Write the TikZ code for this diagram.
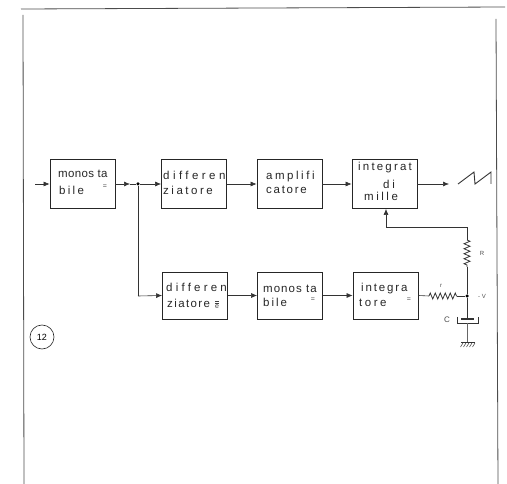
\documentclass[tikz,border=0pt]{standalone}
\usepackage{fontspec}
\setmainfont{Liberation Sans}
\usetikzlibrary{arrows.meta,decorations.pathmorphing}
\newcommand{\spc}[2]{{\addfontfeatures{LetterSpace=#1}#2}}
\tikzset{
  blk/.style={draw=black!85,line width=0.8pt,minimum width=65pt,minimum height=49pt,inner sep=0pt},
  lbl/.style={font=\fontsize{11.5pt}{12pt}\selectfont,anchor=west,inner sep=0pt,text=black!85,text height=7.5pt,text depth=1.5pt},
  small/.style={font=\fontsize{6pt}{7pt}\selectfont,inner sep=0pt,text=black!70},
  eqmark/.style={font=\fontsize{7pt}{7pt}\selectfont,inner sep=0pt,text=black!75},
  wire/.style={draw=black!80,line width=0.6pt},
  arr/.style={wire,-{Latex[length=6pt,width=5pt]}},
  res/.style={wire,line width=0.8pt,decorate,decoration={zigzag,segment length=5pt,amplitude=3pt}},
  dot/.style={circle,fill=black,inner sep=0pt,minimum size=3.5pt},
  frame/.style={draw=black!70,line width=0.8pt}
}
\begin{document}
\begin{tikzpicture}[x=1pt,y=-1pt]
\useasboundingbox (0,0) rectangle (507,484);
% frame
\coordinate (f1) at (24,484); \coordinate (f2) at (23,15);
\coordinate (f3) at (21,9); \coordinate (f4) at (505,7);
\coordinate (f5) at (496,19); \coordinate (f6) at (498,484);
\draw[frame] (f1) -- (f2);
\draw[frame] (f3) -- (f4);
\draw[frame] (f5) -- (f6);
% blocks
\node[blk] (m1) at (82.5,184) {};
\node[blk] (d1) at (194,184) {};
\node[blk] (a1) at (289.5,184) {};
\node[blk] (i1) at (384.5,184) {};
\node[blk,minimum height=47pt] (d2) at (195,295.5) {};
\node[blk,minimum height=47pt] (m2) at (290,295.5) {};
\node[blk,minimum height=47pt] (i2) at (385.5,295.5) {};
% labels
\node[lbl] at (58,175) {\spc{3}{monos ta}};
\node[lbl] at (59,192) {\spc{20}{bile}};
\node[eqmark] at (105,187) {=};
\node[lbl] at (163,177) {\spc{30}{differen}};
\node[lbl] at (163,192) {\spc{22}{ziatore}};
\node[lbl] at (266,177) {\spc{22}{amplifi}};
\node[lbl] at (266,191) {\spc{15}{catore}};
\node[lbl] at (358,168) {\spc{19}{integrat}};
\node[lbl] at (383,186) {\spc{25}{di}};
\node[lbl] at (364,198) {\spc{22}{mille}};
\node[lbl] at (166,289) {\spc{28}{differen}};
\node[lbl] at (167,305) {\spc{12}{ziatore}};
\node[eqmark] at (217,305) {$\overline{\overline{\mathrm{e}}}$};
\node[lbl] at (263,290) {\spc{9}{monos ta}};
\node[lbl] at (263,304) {\spc{17}{bile}};
\node[eqmark] at (313,300) {=};
\node[lbl] at (361,289) {\spc{16}{integra}};
\node[lbl] at (359,304) {\spc{22}{tore}};
\node[eqmark] at (409,300) {=};
% connectors
\coordinate (in) at (35,184);
\coordinate (mj) at (130,184);
\coordinate (j) at (138,184);
\coordinate (jb) at (138,296);
\coordinate (s) at (449,184);
\node[dot] (jd) at (j) {};
\draw[arr] (in) -- (m1.west);
\draw[arr] (m1.east) -- (mj);
\draw[wire] (mj) -- (jd);
\draw[arr] (jd) -- (d1.west);
\draw[arr] (d1.east) -- (a1.west);
\draw[arr] (a1.east) -- (i1.west);
\draw[arr] (i1.east) -- (s);
\draw[wire] (jd) -- (jb);
\draw[arr] (jb) -- (d2.west);
\draw[arr] (d2.east) -- (m2.west);
\draw[arr] (m2.east) -- (i2.west);
% sawtooth
\coordinate (z1) at (458,184); \coordinate (z2) at (474,172);
\coordinate (z3) at (475,184); \coordinate (z4) at (491,172);
\coordinate (z5) at (491,184);
\draw[wire,line width=0.9pt] (z1) -- (z2) -- (z3) -- (z4) -- (z5);
% feedback and RC
\node[dot] (n) at (467,296) {};
\coordinate (fb) at (386,227);
\coordinate (fr) at (467,227);
\coordinate (ra) at (467,240);
\coordinate (rb) at (467,267);
\coordinate (ia) at (429,296);
\coordinate (ib) at (457,296);
\coordinate (c1) at (467,319);
\coordinate (c2) at (467,323);
\coordinate (g) at (467,343);
\draw[wire] (ra) -- (fr) -- (fb);
\draw[arr] (fb) -- (i1.south -| fb);
\draw[res] (ra) -- (rb);
\draw[wire,line width=0.8pt] (rb) -- (n);
\draw[wire] (i2.east) -- (ia);
\draw[res] (ia) -- (ib);
\draw[wire] (ib) -- (n);
\draw[wire] (n) -- (c1);
\draw[wire,line width=1.6pt] (461,319) -- (474,319);
\draw[wire] (457,317) -- (457,323) -- (478,323) -- (478,317);
\draw[wire,line width=1pt,draw=black!60] (c2) -- (g);
\draw[wire,line width=1pt] (461,343) -- (475,343);
\foreach \k in {463,466,469,472,475} \draw[wire,line width=0.5pt] (\k,343) -- (\k-2.5,347);
\node[small] at (482,253) {R};
\node[small] at (441,286) {r};
\node[small] at (482,296) {- V};
\node[small,font=\fontsize{8pt}{9pt}\selectfont] at (447,320) {C};
% tag
\node[draw=black!85,circle,line width=0.6pt,minimum size=24pt,inner sep=0pt,font=\fontsize{9pt}{10pt}\selectfont] (tag) at (42,337) {12};
\end{tikzpicture}
\end{document}
